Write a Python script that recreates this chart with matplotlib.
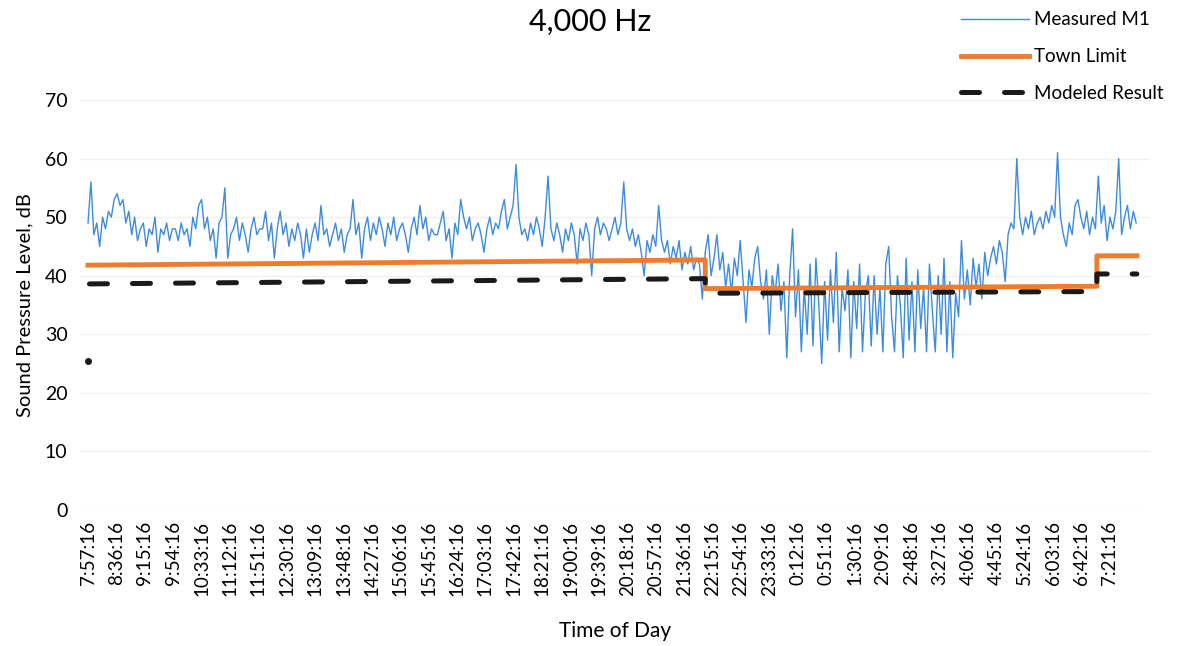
import numpy as np
import matplotlib
matplotlib.use("Agg")
import matplotlib.pyplot as plt

plt.rcParams["font.family"] = ["Lato", "DejaVu Sans"]

# time axis labels (one every 39 minutes)
tick_labels = ["7:57:16", "8:36:16", "9:15:16", "9:54:16", "10:33:16", "11:12:16",
               "11:51:16", "12:30:16", "13:09:16", "13:48:16", "14:27:16", "15:06:16",
               "15:45:16", "16:24:16", "17:03:16", "17:42:16", "18:21:16", "19:00:16",
               "19:39:16", "20:18:16", "20:57:16", "21:36:16", "22:15:16", "22:54:16",
               "23:33:16", "0:12:16", "0:51:16", "1:30:16", "2:09:16", "2:48:16",
               "3:27:16", "4:06:16", "4:45:16", "5:24:16", "6:03:16", "6:42:16", "7:21:16"]

# measured M1, dB, read every ~4 minutes from 7:57
measured = [
    49, 56, 47, 49, 45, 50, 48, 51, 50, 53, 54, 52, 53, 49, 51, 47, 50, 46, 48, 49, 45, 48, 47, 50, 44, 48, 47, 49, 46, 48,
    48, 46, 49, 47, 48, 45, 50, 48, 52, 53, 48, 50, 46, 48, 43, 49, 50, 55, 43, 47, 48, 50, 46, 49, 47, 44, 48, 50, 47, 48,
    48, 51, 46, 49, 43, 48, 51, 47, 49, 45, 48, 46, 49, 47, 43, 48, 44, 47, 49, 46, 52, 47, 48, 45, 47, 49, 46, 48, 44, 47,
    48, 53, 47, 49, 43, 48, 50, 46, 49, 47, 50, 48, 45, 49, 47, 50, 46, 48, 49, 47, 44, 48, 50, 47, 52, 48, 50, 46, 48, 47,
    47, 49, 51, 46, 48, 43, 49, 47, 53, 50, 48, 50, 46, 48, 49, 47, 44, 48, 50, 47, 49, 48, 51, 53, 48, 50, 52, 59, 50, 47,
    48, 46, 49, 47, 50, 48, 45, 50, 57, 48, 46, 49, 47, 44, 48, 46, 49, 47, 42, 48, 46, 49, 47, 40, 48, 50, 47, 49, 48, 46,
    48, 50, 47, 49, 56, 48, 46, 48, 45, 47, 44, 40, 46, 44, 47, 45, 52, 46, 44, 46, 42, 45, 43, 46, 41, 44, 42, 45, 41, 43,
    42, 36, 44, 47, 40, 43, 47, 41, 44, 38, 42, 37, 43, 40, 46, 39, 32, 41, 38, 43, 45, 39, 36, 41, 30, 40, 37, 42, 34, 39,
    26, 40, 48, 33, 41, 27, 38, 30, 42, 28, 43, 35, 25, 39, 29, 41, 32, 44, 27, 38, 34, 41, 26, 39, 31, 42, 27, 37, 40, 28,
    40, 30, 38, 27, 42, 45, 33, 27, 40, 35, 26, 43, 29, 39, 27, 41, 31, 38, 27, 42, 34, 27, 40, 30, 43, 27, 39, 26, 37, 33,
    46, 36, 41, 35, 43, 38, 42, 36, 44, 40, 43, 45, 42, 46, 44, 39, 47, 49, 48, 60, 50, 47, 50, 48, 51, 47, 49, 50, 48, 51,
    49, 52, 50, 61, 50, 47, 45, 49, 47, 52, 53, 50, 48, 51, 47, 50, 48, 57, 49, 52, 46, 50, 48, 51, 60, 47, 50, 52, 48, 51, 49,
]

# town limit, step changes (minutes from start, dB)
limit_min = [0, 848, 848, 1386, 1386, 1441]
limit_db = [41.8, 42.7, 37.8, 38.2, 43.4, 43.4]

# modeled result
model_min = [2, 848, 848, 1386, 1386, 1441]
model_db = [38.6, 39.5, 37.0, 37.3, 40.3, 40.3]
model_first = 25.5

minutes = np.arange(len(measured)) * 4

fig = plt.figure(figsize=(11.87, 6.46), dpi=100)
ax = fig.add_axes([80 / 1187, 136 / 646, 1070 / 1187, 410 / 646])

ax.plot(minutes, measured, color="#3d8bdc", lw=1.0, label="Measured M1", zorder=2)
ax.plot(limit_min, limit_db, color="#ef7b2c", lw=3.5, label="Town Limit", zorder=3)
ax.plot(model_min, model_db, color="#1a1a1a", lw=3.6, dashes=(3.6, 5.0),
        dash_capstyle="round", label="Modeled Result", zorder=4)
ax.plot([0], [model_first], "o", color="#1a1a1a", ms=4, zorder=4)

ax.set_xlim(-11, 1459)
ax.set_ylim(0, 70)
ax.set_yticks(range(0, 71, 10))
ax.set_xticks(np.arange(len(tick_labels)) * 39)
ax.set_xticklabels(tick_labels, rotation=90, fontsize=13.5)
ax.tick_params(axis="y", labelsize=14, length=0, pad=9)
ax.tick_params(axis="x", length=0, pad=8)
ax.grid(axis="y", color="#f0f0f0", lw=1)
for s in ax.spines.values():
    s.set_visible(False)

ax.set_ylabel("Sound Pressure Level, dB", fontsize=14.5, labelpad=8)
ax.set_xlabel("Time of Day", fontsize=15, labelpad=18)
fig.text(590 / 1187, 1 - 22 / 646, "4,000 Hz", fontsize=22, ha="center", va="center")

fig.legend(loc="upper left", bbox_to_anchor=(952 / 1187, 1 - 2 / 646), frameon=False,
           fontsize=13.5, handlelength=3.6, handletextpad=0.3, labelspacing=1.05, borderpad=0)

fig.savefig("out.png", dpi=100)
